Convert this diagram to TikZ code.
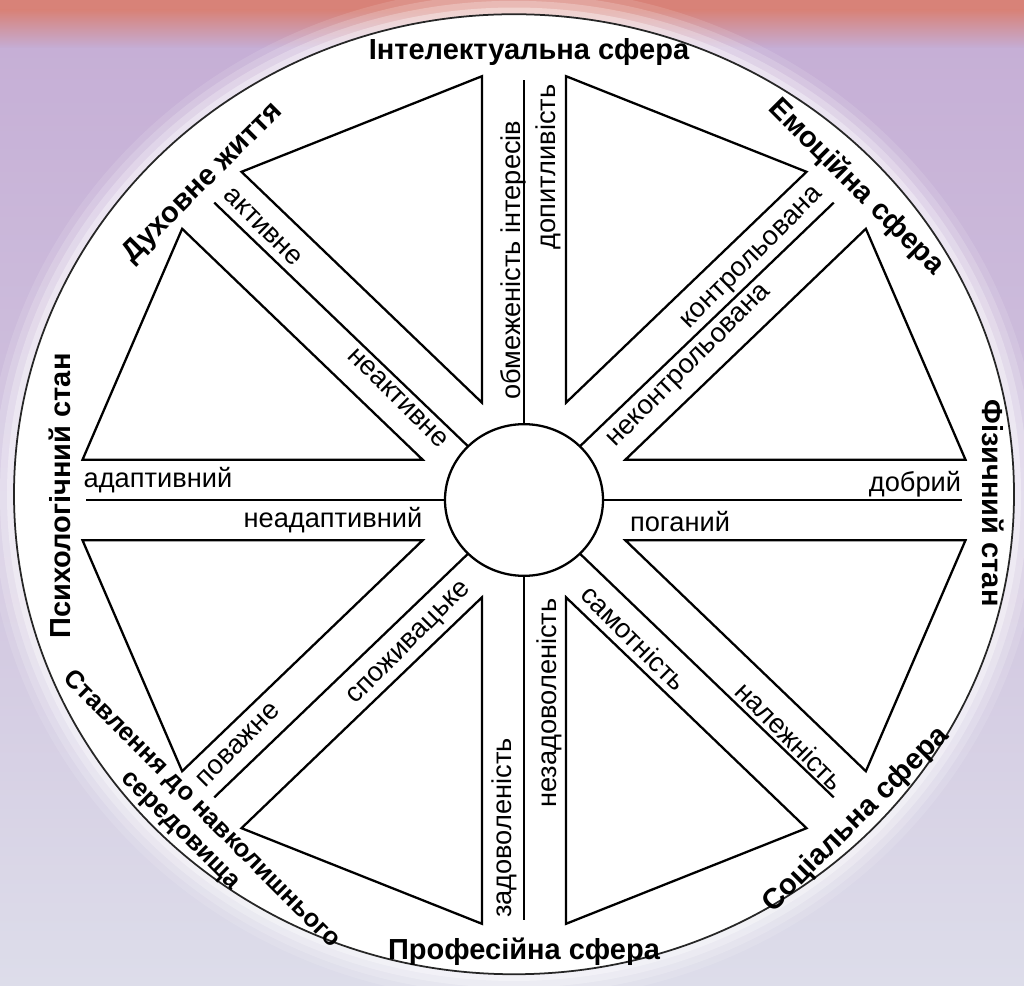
\documentclass[tikz,border=0pt]{standalone}
\usepackage{fontspec}
\setmainfont{Liberation Sans}
\definecolor{bandred}{RGB}{216,130,120}
\definecolor{lilac}{RGB}{197,173,213}
\definecolor{mist}{RGB}{221,221,234}
\tikzset{
	wall/.style={line width=1.3pt, line join=miter},
	midline/.style={line width=1.3pt},
	sphere/.style={font=\fontsize{16.5}{19}\selectfont\bfseries, inner sep=0pt},
	pole/.style={font=\fontsize{15.5}{18}\selectfont, inner sep=0pt},
}
\begin{document}
\begin{tikzpicture}[x=0.02cm, y=-0.02cm]
	\useasboundingbox (0,0) rectangle (1024,986);
	\fill[top color=lilac, bottom color=mist, middle color=lilac!55!mist] (0,0) rectangle (1024,986);
	\fill[bandred] (0,0) rectangle (1024,10);
	\fill[top color=bandred, bottom color=lilac] (0,10) rectangle (1024,48);
	\begin{scope}[shift={(524,500)}, yscale=-0.96]
		\fill[white, opacity=0.12] (-10,6) circle (528);
		\fill[white, opacity=0.18] (-10,6) circle (521);
		\fill[white, opacity=0.25] (-10,6) circle (514);
		\fill[white, opacity=0.35] (-10,6) circle (507);
		\filldraw[fill=white, draw=black!85, line width=1pt] (-10,6) circle (500);
		\draw[wall] (0,0) circle (79);
		\draw[wall] (5.43:443.5) -- (22.5:109.7) -- (39.57:443.5) -- cycle;
		\draw[wall] (50.43:443.5) -- (67.5:109.7) -- (84.57:443.5) -- cycle;
		\draw[wall] (95.43:443.5) -- (112.5:109.7) -- (129.57:443.5) -- cycle;
		\draw[wall] (140.43:443.5) -- (157.5:109.7) -- (174.57:443.5) -- cycle;
		\draw[wall] (185.43:443.5) -- (202.5:109.7) -- (219.57:443.5) -- cycle;
		\draw[wall] (230.43:443.5) -- (247.5:109.7) -- (264.57:443.5) -- cycle;
		\draw[wall] (275.43:443.5) -- (292.5:109.7) -- (309.57:443.5) -- cycle;
		\draw[wall] (320.43:443.5) -- (337.5:109.7) -- (354.57:443.5) -- cycle;
		\draw[midline] (0:79) -- (0:438);
		\draw[midline] (45:79) -- (45:438);
		\draw[midline] (90:79) -- (90:438);
		\draw[midline] (135:79) -- (135:438);
		\draw[midline] (180:79) -- (180:438);
		\draw[midline] (225:79) -- (225:438);
		\draw[midline] (270:79) -- (270:438);
		\draw[midline] (315:79) -- (315:438);
	\end{scope}
	\node[sphere] (intel) at (529,52) {Інтелектуальна сфера};
	\node[sphere, rotate=-45] (emot) at (856,187) {Емоційна сфера};
	\node[sphere, rotate=-90] (phys) at (993,503) {Фізичний стан};
	\node[sphere, rotate=45] (soc) at (856,820) {Соціальна сфера};
	\node[sphere] (prof) at (524,952) {Професійна сфера};
	\node[sphere, rotate=-45, align=center, font=\fontsize{14.5}{16.5}\selectfont\bfseries] (envir) at (191,820) {Ставлення до навколишнього\\середовища};
	\node[sphere, rotate=90] (psych) at (60,496) {Психологічний стан};
	\node[sphere, rotate=45] (spirit) at (203,183) {Духовне життя};
	\node[pole, rotate=90] (narrow) at (513,260) {обмеженість інтересів};
	\node[pole, rotate=90] (curious) at (548,167) {допитливість};
	\node[pole, rotate=45] (ctrl) at (753,259) {контрольована};
	\node[pole, rotate=45] (unctrl) at (690,367) {неконтрольована};
	\node[pole] (good) at (915,484) {добрий};
	\node[pole] (bad) at (680,522) {поганий};
	\node[pole, rotate=-45] (alone) at (634,638) {самотність};
	\node[pole, rotate=-45] (belong) at (790,736) {належність};
	\node[pole, rotate=90] (satisf) at (504,828) {задоволеність};
	\node[pole, rotate=90] (unsatisf) at (549,703) {незадоволеність};
	\node[pole, rotate=45] (consum) at (410,644) {споживацьке};
	\node[pole, rotate=45] (respect) at (238,745) {поважне};
	\node[pole] (adapt) at (158,480) {адаптивний};
	\node[pole] (unadapt) at (333,520) {неадаптивний};
	\node[pole, rotate=-45] (active) at (263,227) {активне};
	\node[pole, rotate=-45] (passive) at (398,398) {неактивне};
\end{tikzpicture}
\end{document}
